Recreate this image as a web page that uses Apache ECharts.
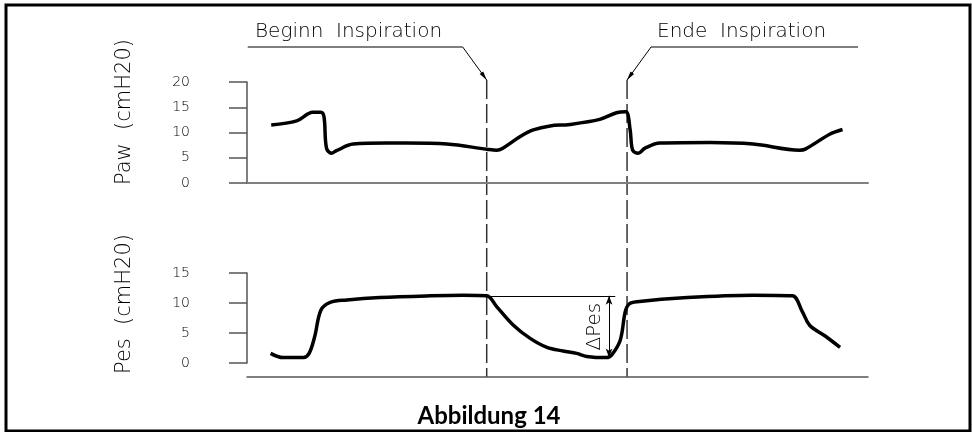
<!DOCTYPE html>
<html>
<head>
<meta charset="utf-8">
<script src="https://cdn.jsdelivr.net/npm/echarts@6/dist/echarts.min.js"></script>
<style>
  html, body { margin: 0; padding: 0; background: #fff; }
  #chart { width: 972px; height: 432px; }
</style>
</head>
<body>
<div id="chart"></div>
<script>
// Zeitachse in willkuerlichen Einheiten (0..100)
const pawTime = [3.9, 8.0, 10.6, 11.9, 12.4, 12.8, 13.6, 14.4, 17.1, 22.5, 25.7, 32.2, 38.6, 40.2, 41.2, 44.0, 46.1, 48.8, 52.0, 56.8, 59.5, 61.0, 61.7, 62.1, 63.0, 64.1, 66.5, 74.6, 81.5, 89.0, 89.9, 93.9, 95.9];
const pawValues = [11.5, 12.3, 14.0, 14.0, 13.1, 6.9, 5.9, 6.4, 7.7, 7.9, 7.9, 7.7, 6.7, 6.5, 6.9, 9.2, 10.5, 11.3, 11.6, 12.6, 13.9, 14.1, 10.5, 6.5, 5.9, 6.9, 7.9, 8.0, 7.7, 6.5, 6.7, 9.7, 10.6];

const pesTime = [3.8, 5.8, 9.1, 10.0, 10.9, 11.9, 13.4, 16.1, 21.4, 29.5, 34.8, 38.6, 40.2, 42.9, 45.6, 48.3, 50.9, 53.1, 54.7, 57.9, 58.7, 60.1, 60.9, 61.5, 62.8, 70.9, 81.5, 87.8, 89.4, 90.6, 93.1, 95.5];
const pesValues = [1.6, 0.9, 0.9, 1.6, 4.4, 8.8, 10.1, 10.5, 10.9, 11.2, 11.3, 11.2, 9.4, 6.3, 4.1, 2.6, 2.0, 1.6, 1.1, 0.9, 1.3, 3.8, 8.5, 9.8, 10.2, 10.9, 11.3, 11.2, 8.6, 6.3, 4.5, 2.6];

const pawTicks = [0, 5, 10, 15, 20];
const pesTicks = [0, 5, 10, 15];

const beginnTime = 38.6;
const endeTime = 61.2;
const deltaTime = 58.3;     // Lage des Doppelpfeils
const deltaEndTime = 59.3;  // Ende der Hilfslinie
const deltaTop = 11.2;
const deltaBottom = 0.9;

const cadFont = 'DejaVu Sans';
const textColor = '#000';

const chart = echarts.init(document.getElementById('chart'), null, { renderer: 'canvas' });

const yAxisBase = {
  type: 'value',
  interval: 5,
  offset: 25,
  splitLine: { show: false },
  axisLine: { show: true, lineStyle: { color: '#555', width: 1.5 } },
  axisTick: { show: true, length: 18, lineStyle: { color: '#555', width: 1.5 } },
  axisLabel: { margin: 32, color: '#000', fontFamily: cadFont, fontSize: 14, fontWeight: 200 }
};

const xAxisBase = {
  type: 'value',
  min: 0,
  max: 100,
  splitLine: { show: false },
  axisTick: { show: false },
  axisLabel: { show: false }
};

const toPairs = (xs, ys) => xs.map((x, i) => [x, ys[i]]);

chart.setOption({
  animation: false,
  grid: [
    { left: 247, width: 621, top: 82, height: 101 },
    { left: 247, width: 621, top: 273, height: 90 }
  ],
  xAxis: [
    Object.assign({}, xAxisBase, {
      gridIndex: 0,
      axisLine: { show: true, onZero: false, lineStyle: { color: '#808080', width: 2 } }
    }),
    Object.assign({}, xAxisBase, {
      gridIndex: 1,
      offset: 14,
      axisLine: { show: true, onZero: false, lineStyle: { color: '#555', width: 1.5 } }
    })
  ],
  yAxis: [
    Object.assign({}, yAxisBase, { gridIndex: 0, min: pawTicks[0], max: pawTicks[pawTicks.length - 1] }),
    Object.assign({}, yAxisBase, { gridIndex: 1, min: pesTicks[0], max: pesTicks[pesTicks.length - 1] })
  ],
  series: [
    {
      name: 'Paw',
      type: 'line',
      xAxisIndex: 0,
      yAxisIndex: 0,
      data: toPairs(pawTime, pawValues),
      showSymbol: false,
      smooth: 0.35,
      lineStyle: { color: '#000', width: 3.5 }
    },
    {
      name: 'Pes',
      type: 'line',
      xAxisIndex: 1,
      yAxisIndex: 1,
      data: toPairs(pesTime, pesValues),
      showSymbol: false,
      smooth: 0.35,
      lineStyle: { color: '#000', width: 3.5 },
      markLine: {
        silent: true,
        animation: false,
        label: { show: false },
        lineStyle: { color: '#000', width: 1, type: 'solid' },
        data: [
          [
            { coord: [beginnTime, deltaTop], symbol: 'none' },
            { coord: [deltaEndTime, deltaTop], symbol: 'none' }
          ],
          [
            { coord: [deltaTime, deltaTop], symbol: 'arrow', symbolSize: [5, 9] },
            { coord: [deltaTime, deltaBottom], symbol: 'arrow', symbolSize: [5, 9] }
          ]
        ]
      }
    }
  ]
});

// Anmerkungen (gestrichelte Linien, Hinweispfeile, Texte)
const px = (xi, pt) => chart.convertToPixel({ xAxisIndex: xi, yAxisIndex: xi }, pt);

const topY = px(0, [0, pawTicks[pawTicks.length - 1]])[1] - 2;
const bottomY = px(1, [0, 0])[1] + 14;
const xBeg = px(0, [beginnTime, 0])[0];
const xEnd = px(0, [endeTime, 0])[0];
const leaderY = 47;

function arrowHead(x0, y0, x1, y1) {
  const dx = x1 - x0, dy = y1 - y0;
  const len = Math.sqrt(dx * dx + dy * dy);
  const ux = dx / len, uy = dy / len;
  const l = 9, w = 2.2;
  const bx = x1 - ux * l, by = y1 - uy * l;
  return {
    type: 'polygon',
    shape: { points: [[x1, y1], [bx - uy * w, by + ux * w], [bx + uy * w, by - ux * w]] },
    style: { fill: '#000' }
  };
}

function leader(xv, dir, length) {
  const ex = xv + dir * 24;
  return [
    { type: 'line', shape: { x1: ex, y1: leaderY, x2: ex + dir * length, y2: leaderY }, style: { stroke: '#555', lineWidth: 1.5 } },
    { type: 'line', shape: { x1: ex, y1: leaderY, x2: xv, y2: topY }, style: { stroke: '#000', lineWidth: 1 } },
    arrowHead(ex, leaderY, xv, topY)
  ];
}

const dashed = (xv) => ({
  type: 'line',
  shape: { x1: xv, y1: topY, x2: xv, y2: bottomY },
  style: { stroke: '#333', lineWidth: 1.5, lineDash: [19, 5] }
});

const deltaPos = px(1, [deltaTime, (deltaTop + deltaBottom) / 2]);

chart.setOption({
  graphic: [
    {
      type: 'rect',
      shape: { x: 6, y: 5, width: 964, height: 426 },
      style: { fill: 'none', stroke: '#000', lineWidth: 3 },
      silent: true
    },
    dashed(xBeg),
    dashed(xEnd),
    ...leader(xBeg, -1, 215),
    ...leader(xEnd, 1, 207),
    {
      type: 'text', left: 255, top: 22,
      style: { text: 'Beginn  Inspiration', font: '200 20px "DejaVu Sans"', fill: textColor }
    },
    {
      type: 'text', left: 657, top: 22,
      style: { text: 'Ende  Inspiration', font: '200 20px "DejaVu Sans"', fill: textColor }
    },
    {
      type: 'text', x: 125, y: 112, rotation: Math.PI / 2,
      style: { text: 'Paw  (cmH20)', font: '200 21px "DejaVu Sans"', fill: textColor, align: 'center', verticalAlign: 'middle' }
    },
    {
      type: 'text', x: 125, y: 304, rotation: Math.PI / 2,
      style: { text: 'Pes  (cmH20)', font: '200 21px "DejaVu Sans"', fill: textColor, align: 'center', verticalAlign: 'middle' }
    },
    {
      type: 'text', x: deltaPos[0] - 14, y: deltaPos[1], rotation: Math.PI / 2,
      style: { text: 'ΔPes', font: '200 20px "DejaVu Sans"', fill: textColor, align: 'center', verticalAlign: 'middle' }
    },
    {
      type: 'text', x: 489, y: 416,
      style: { text: 'Abbildung 14', font: 'bold 24px Lato', fill: '#000', align: 'center', verticalAlign: 'middle' }
    }
  ]
});
</script>
</body>
</html>
